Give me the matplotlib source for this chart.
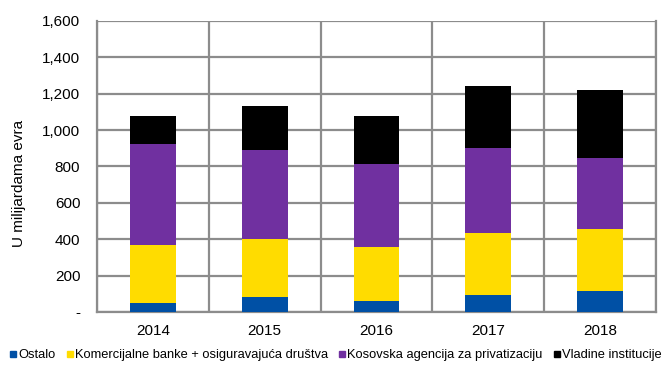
import matplotlib
matplotlib.use("Agg")
import matplotlib.pyplot as plt
from matplotlib.ticker import FuncFormatter, MultipleLocator
from matplotlib.lines import Line2D
import numpy as np

plt.rcParams['font.family'] = ['Liberation Sans', 'DejaVu Sans']

years = ['2014', '2015', '2016', '2017', '2018']
ostalo = [48, 81, 59, 92, 115]
banke = [319, 319, 297, 341, 340]
agencija = [559, 491, 460, 471, 394]
vladine = [152, 242, 262, 339, 370]

series = [
    ('Ostalo', ostalo, '#0050A5'),
    ('Komercijalne banke + osiguravajuća društva', banke, '#FFDC00'),
    ('Kosovska agencija za privatizaciju', agencija, '#7030A0'),
    ('Vladine institucije', vladine, '#000000'),
]

fig = plt.figure(figsize=(6.72, 3.67), dpi=100)
ax = fig.add_axes([0.1443, 0.1499, 0.8317, 0.7929])

x = np.arange(len(years))
bottom = np.zeros(len(years))
for name, vals, col in series:
    ax.bar(x, vals, width=0.41, bottom=bottom, color=col, zorder=3, linewidth=0)
    bottom += np.array(vals)

ax.set_xlim(-0.5, len(years) - 0.5)
ax.set_ylim(0, 1600)
ax.yaxis.set_major_locator(MultipleLocator(200))
ax.yaxis.set_major_formatter(FuncFormatter(lambda v, p: '-' if v == 0 else f'{int(v):,}'))
ax.set_xticks(x)
ax.set_xticklabels(years)
ax.set_xticks(np.arange(-0.5, len(years)), minor=True)

grid_col = '#8C8C8C'
ax.grid(axis='y', which='major', color=grid_col, linewidth=1.6, zorder=0)
ax.grid(axis='x', which='minor', color=grid_col, linewidth=1.6, zorder=0)
ax.tick_params(axis='both', which='both', length=0, labelsize=11, colors='black')
ax.tick_params(axis='y', pad=12)
ax.tick_params(axis='x', pad=9)
ax.spines['top'].set_visible(False)
for s in ['left', 'bottom', 'right']:
    ax.spines[s].set_color(grid_col)
    ax.spines[s].set_linewidth(1.6)

ax.set_ylabel('U milijardama evra', fontsize=11, va='center')
ax.yaxis.set_label_coords(-0.14, 0.443)

handles = [Line2D([], [], marker='s', linestyle='', markersize=5,
                  markerfacecolor=c, markeredgecolor=c) for _, _, c in series]
fig.legend(handles, [n for n, _, _ in series], loc='lower left',
           bbox_to_anchor=(0.0, -0.005), ncol=4, frameon=False, fontsize=9.3,
           handletextpad=0.0, columnspacing=0.7, handlelength=0.8,
           borderaxespad=0.2)

fig.savefig('out.png', dpi=100)
